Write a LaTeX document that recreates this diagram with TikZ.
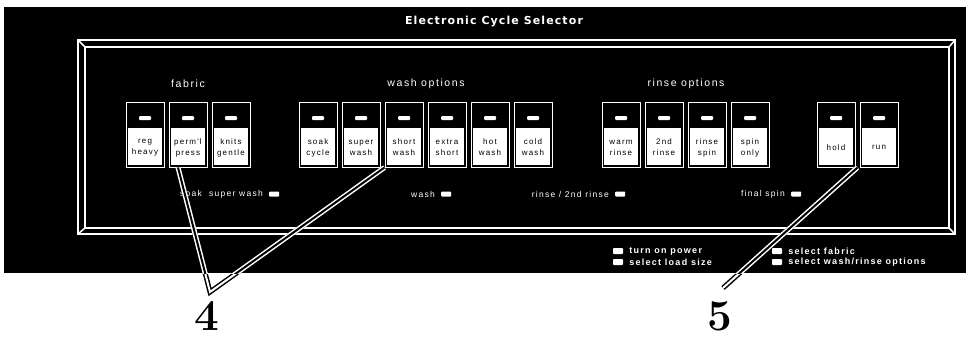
\documentclass[tikz,border=0pt]{standalone}
\usepackage{fontspec}
\usetikzlibrary{positioning}
\newfontfamily\panelfont[LetterSpace=15]{Liberation Sans}
\newfontfamily\legendfont[LetterSpace=14]{Liberation Sans}
\newfontfamily\titlefont[LetterSpace=10]{DejaVu Sans}
\newcommand{\panelbtn}[3]{%
  \node[btn] (#1) at (#2,134.5) {};
  \node[btntext] (#1-txt) at ([yshift=-13pt]#1.center) {#3};
}
\tikzset{
  btn/.style={draw=white, line width=1pt, minimum width=38pt, minimum height=65pt, inner sep=0pt,
    path picture={
      \fill[white] ([shift={(2pt,2pt)}]path picture bounding box.south west) rectangle ([shift={(-2pt,39pt)}]path picture bounding box.south east);
      \fill[white,rounded corners=1pt] ([shift={(-6pt,14.5pt)}]path picture bounding box.center) rectangle ([shift={(6pt,18.5pt)}]path picture bounding box.center);
    }},
  btntext/.style={font=\panelfont\fontsize{8}{11}\selectfont, align=center, text=black, inner sep=0pt},
  grouplabel/.style={font=\panelfont\fontsize{10.5}{12}\selectfont, text=white, inner sep=0pt},
  lamplabel/.style={font=\panelfont\fontsize{8.5}{10}\selectfont, text=white, inner sep=0pt, anchor=east},
  lamp/.style={fill=white, minimum width=10pt, minimum height=5pt, inner sep=0pt, rounded corners=0.8pt},
  legendtext/.style={font=\legendfont\bfseries\fontsize{9}{11}\selectfont, text=white, inner sep=0pt, anchor=west},
  callnum/.style={font=\fontsize{44}{44}\selectfont\bfseries, inner sep=0pt},
  callout/.style={draw=black, line width=1.5pt, double=white, double distance=2pt},
  calloutin/.style={draw=white, line width=1.5pt, double=black, double distance=2pt},
}
\begin{document}
\begin{tikzpicture}[x=1pt,y=-1pt]
\useasboundingbox (0,0) rectangle (969,338);
\fill[white] (0,0) rectangle (969,338);
% panel
\fill[black] (4,7) rectangle (966,273);
\node[font=\titlefont\bfseries\fontsize{11}{13}\selectfont, text=white, inner sep=0pt] (title) at (494,22) {Electronic Cycle Selector};
% frame
\draw[white, line width=2.5pt] (78,40) rectangle (955,234);
\draw[white, line width=2pt] (85,47) rectangle (949,228);
\draw[white, line width=1.5pt] (78,40) -- (85,47) (955,40) -- (949,47) (78,234) -- (85,228) (955,234) -- (949,228);
% group labels
\node[grouplabel] (fabric) at (188,84) {fabric};
\node[grouplabel] (washopt) at (426,84) {wash options};
\node[grouplabel] (rinseopt) at (686,84) {rinse options};
% buttons
\panelbtn{regheavy}{145}{reg\\heavy}
\panelbtn{permpress}{188}{perm'l\\press}
\panelbtn{knits}{231}{knits\\gentle}
\panelbtn{soak}{318}{soak\\cycle}
\panelbtn{superwash}{361}{super\\wash}
\panelbtn{shortwash}{404}{short\\wash}
\panelbtn{extrashort}{447}{extra\\short}
\panelbtn{hotwash}{490}{hot\\wash}
\panelbtn{coldwash}{533}{cold\\wash}
\panelbtn{warmrinse}{621}{warm\\rinse}
\panelbtn{secondrinse}{664}{2nd\\rinse}
\panelbtn{rinsespin}{707}{rinse\\spin}
\panelbtn{spinonly}{750}{spin\\only}
\panelbtn{hold}{836}{hold}
\panelbtn{run}{879}{run}
% status lamps
\node[lamplabel] (st-soak) at (263,194) {soak\ \ super wash};
\node[lamp, right=6pt of st-soak] (l-soak) {};
\node[lamplabel] (st-wash) at (435,194) {wash};
\node[lamp, right=6pt of st-wash] (l-wash) {};
\node[lamplabel] (st-rinse) at (609,194) {rinse / 2nd rinse};
\node[lamp, right=6pt of st-rinse] (l-rinse) {};
\node[lamplabel] (st-spin) at (785,194) {final spin};
\node[lamp, right=6pt of st-spin] (l-spin) {};
% legend
\node[lamp, minimum height=6pt] (k-power) at (618,251) {};
\node[legendtext, right=6pt of k-power] (t-power) {turn on power};
\node[lamp, minimum height=6pt] (k-load) at (618,262) {};
\node[legendtext, right=6pt of k-load] (t-load) {select load size};
\node[lamp, minimum height=6pt] (k-fabric) at (777,251) {};
\node[legendtext, right=6pt of k-fabric] (t-fabric) {select fabric};
\node[lamp, minimum height=6pt] (k-opts) at (777,262) {};
\node[legendtext, right=6pt of k-opts] (t-opts) {select wash/rinse options};
% callouts
\node[callnum] (n4) at (207,316) {4};
\node[callnum] (n5) at (720,316) {5};
\coordinate (tip4) at (210,292);
\coordinate (tip5) at (723,288);
\draw[callout] ([xshift=-10pt]permpress.south) -- (tip4) -- (shortwash.south west);
\draw[callout] ([xshift=-2pt]run.south west) -- (tip5);
\begin{scope}
\clip (4,7) rectangle (966,273);
\draw[calloutin] ([xshift=-10pt]permpress.south) -- (tip4) -- (shortwash.south west);
\draw[calloutin] ([xshift=-2pt]run.south west) -- (tip5);
\end{scope}
\end{tikzpicture}
\end{document}
